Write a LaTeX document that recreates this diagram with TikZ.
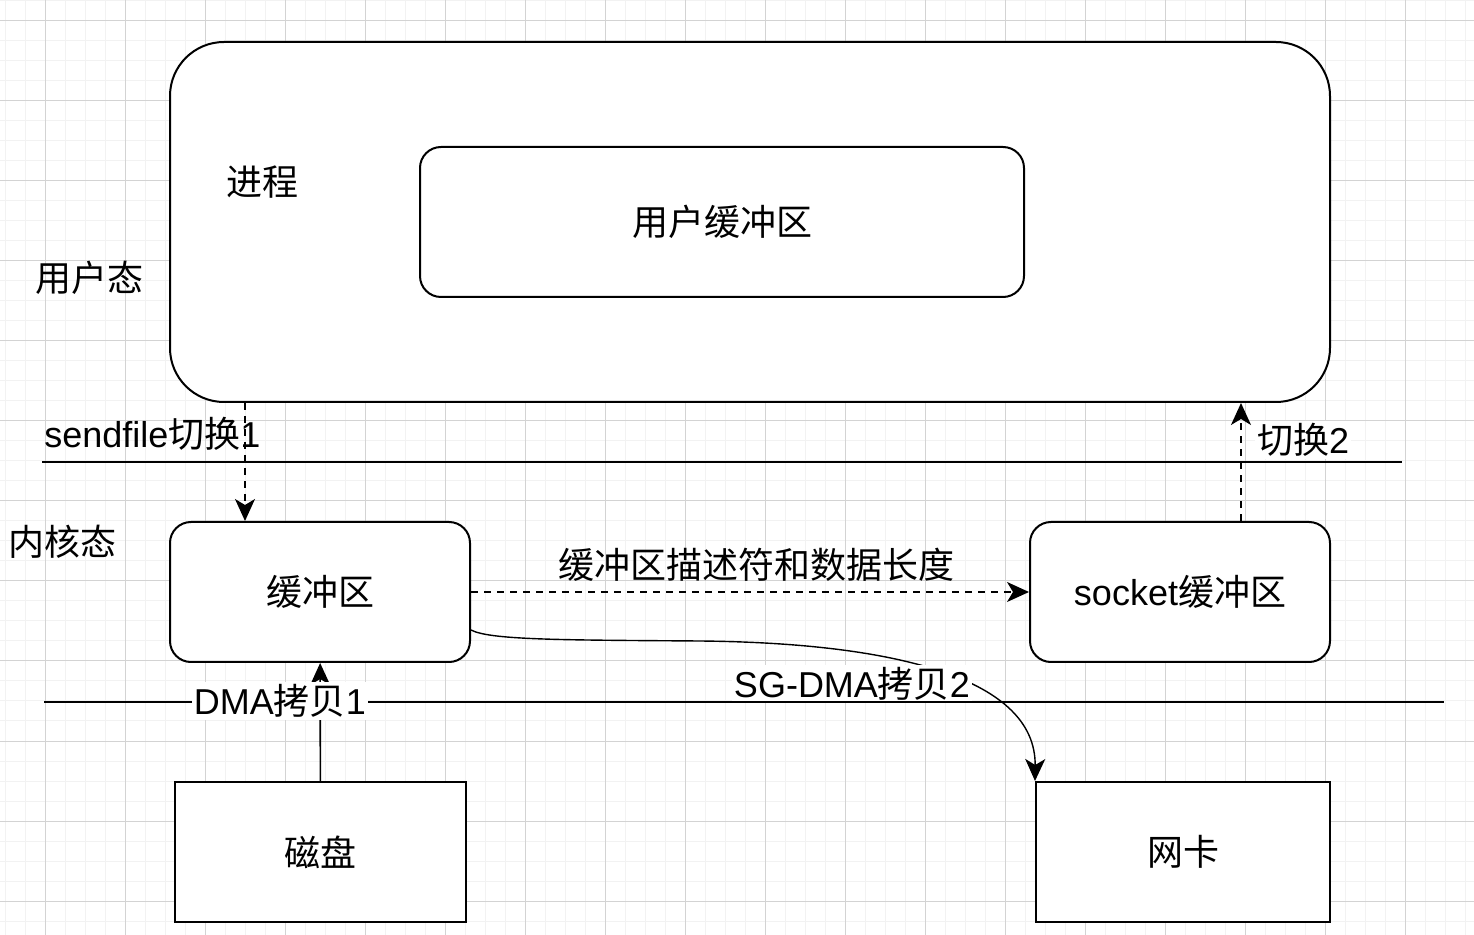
\documentclass[tikz,border=0pt]{standalone}
\usepackage{fontspec}
\setmainfont{Liberation Sans}
\newfontfamily\zhfont{Noto Sans CJK SC}
\newcommand\zh[1]{{\zhfont #1}}
\usepackage{tikz}
\usetikzlibrary{arrows.meta,calc}
\definecolor{gridlo}{HTML}{F2F2F2}
\definecolor{gridhi}{HTML}{D3D3D3}
\tikzset{
  box/.style={draw,line width=1pt,fill=white,rounded corners=#1,inner sep=0pt,font=\fontsize{18}{21}\selectfont},
  box/.default={10.5pt},
  arr/.style={-{Stealth[length=11pt,width=10pt,inset=3pt]},line width=0.8pt},
  darr/.style={arr,dash pattern=on 3.5pt off 3pt},
  lbl/.style={inner sep=1pt,font=\fontsize{18}{21}\selectfont},
  sep/.style={line width=0.9pt},
  gmin/.style={gridlo,line width=0.5pt},
  gmaj/.style={gridhi,line width=0.5pt},
}

\begin{document}
\begin{tikzpicture}[x=0.5pt,y=-0.5pt]
 \useasboundingbox (0,0) rectangle (1474,935);
 % grid
 \foreach \x in {5,25,...,1465} \draw[gmin] (\x,0) -- (\x,935);
 \foreach \y in {1,21,...,921} \draw[gmin] (0,\y) -- (1474,\y);
 \foreach \x in {45,125,...,1405} \draw[gmaj] (\x,0) -- (\x,935);
 \foreach \y in {21,101,...,901} \draw[gmaj] (0,\y) -- (1474,\y);

 % user space
 \node[box=27pt,minimum width=580pt,minimum height=180pt] (proc) at (750,222) {};
 \node[box,minimum width=302pt,minimum height=75pt] (ubuf) at (722,222) {\zh{用户缓冲区}};
 \node[lbl] (proclbl) at (262,182) {\zh{进程}};
 \node[lbl] (user) at (89,278) {\zh{用户态}};

 % kernel space
 \node[box,minimum width=150pt,minimum height=70pt] (kbuf) at (320,592) {\zh{缓冲区}};
 \node[box,minimum width=150pt,minimum height=70pt] (sbuf) at (1180,592) {socket\zh{缓冲区}};
 \node[lbl] (kern) at (63,542) {\zh{内核态}};
 \node[box,sharp corners,minimum width=145.5pt,minimum height=70pt] (disk) at (320.5,852) {\zh{磁盘}};
 \node[box,sharp corners,minimum width=147pt,minimum height=70pt] (nic) at (1183,852) {\zh{网卡}};

 \coordinate (ul) at (42,462); \coordinate (ur) at (1402,462);
 \coordinate (kl) at (44,702); \coordinate (kr) at (1444,702);
 \coordinate (t1) at (245,0); \coordinate (t2) at (1241,0);

 \draw[darr] (t1|-proc.south) -- (t1|-kbuf.north);
 \node[lbl,anchor=west] (sf) at (42,434) {sendfile\zh{切换}1};
 \draw[darr] (t2|-sbuf.north) -- (t2|-proc.south);
 \node[lbl,fill=white] (sw2) at (1303,440) {\zh{切换}2};
 \draw[sep] (ul) -- (ur);

 \draw[darr] (kbuf) -- (sbuf);
 \node[lbl] (desc) at (756,565) {\zh{缓冲区描述符和数据长度}};
 \draw[arr,line width=0.7pt] ($(kbuf.east)+(0,38)$) .. controls (490,640) and (560,640) .. (700,641) .. controls (900,643) and (1036,680) .. (nic.north west);
 \node[lbl,fill=white] (sg) at (852,684) {SG-DMA\zh{拷贝}2};
 \draw[sep] (kl) -- (kr);
 \draw[arr] (disk) -- (kbuf);
 \node[lbl,fill=white] (dma) at (280,701) {DMA\zh{拷贝}1};
\end{tikzpicture}
\end{document}
